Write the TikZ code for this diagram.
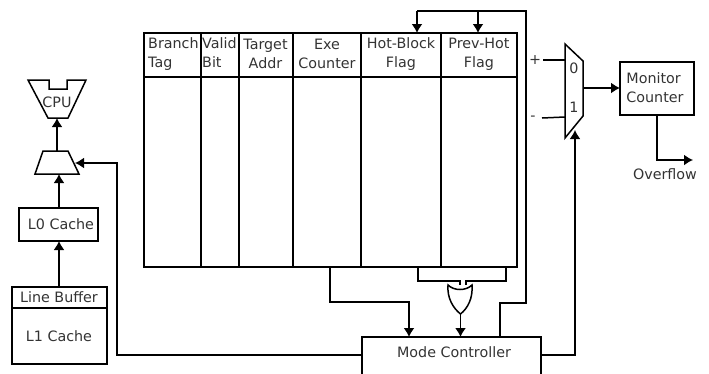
\documentclass[tikz,border=0pt]{standalone}
\usepackage{fontspec}
\setmainfont{DejaVu Sans}
\usetikzlibrary{arrows.meta,calc}
\definecolor{txt}{HTML}{333333}
\tikzset{
  wire/.style={line width=1.5pt,black},
  arrowwire/.style={wire,-{Latex[length=9pt,width=11pt]}},
  boxn/.style={draw=black,line width=1.5pt,rectangle,inner sep=0pt,outer sep=0pt,anchor=north west},
  lab/.style={text=txt,font=\fontsize{14.3}{19}\selectfont,inner sep=0pt,align=center},
  hdr/.style={lab,anchor=north west,align=left},
  shapeline/.style={draw=black,line width=1.5pt,line join=miter}
}
\newcommand{\cellbox}[4]{\node[boxn,minimum width=#3pt,minimum height=#4pt] (#1) at #2 {};}
\begin{document}
\begin{tikzpicture}[x=1pt,y=-1pt]
\useasboundingbox (0,0) rectangle (709,373);
\clip (0,0) rectangle (709,373);
% table
\cellbox{hA}{(144,33)}{57}{44}
\cellbox{hB}{(201,33)}{38}{44}
\cellbox{hC}{(239,33)}{54}{44}
\cellbox{hD}{(293,33)}{68}{44}
\cellbox{hE}{(361,33)}{80}{44}
\cellbox{hF}{(441,33)}{76}{44}
\cellbox{bA}{(144,77)}{57}{190}
\cellbox{bB}{(201,77)}{38}{190}
\cellbox{bC}{(239,77)}{54}{190}
\cellbox{bD}{(293,77)}{68}{190}
\cellbox{bE}{(361,77)}{80}{190}
\cellbox{bF}{(441,77)}{76}{190}
\node[hdr] (tA) at (148,37) {Branch\\Tag};
\node[hdr] (tB) at (202,37) {Valid\\Bit};
\node[lab] (tC) at (265.5,54) {Target\\Addr};
\node[lab] (tD) at (327,54) {Exe\\Counter};
\node[lab] (tE) at (401,54) {Hot-Block\\Flag};
\node[lab] (tF) at (479,54) {Prev-Hot\\Flag};
% mode controller
\node[boxn,minimum width=179pt,minimum height=50pt] (mode) at (362,337) {};
\node[lab] (modet) at (454,352.5) {Mode Controller};
% left stack
\node[boxn,minimum width=95pt,minimum height=21pt] (lb) at (12,287) {};
\node[lab] (lbt) at (59,297.5) {Line Buffer};
\node[boxn,minimum width=95pt,minimum height=56pt] (l1) at (12,308) {};
\node[lab] (l1t) at (59,336) {L1 Cache};
\node[boxn,minimum width=79pt,minimum height=33pt] (l0) at (19,208) {};
\node[lab] (l0t) at (61,224) {L0 Cache};
% small mux
\coordinate (smT) at (56,151);
\coordinate (smB) at (59,174);
\coordinate (smR) at (75,163);
\draw[shapeline] (43,151) -- (68,151) -- (79,174) -- (35,174) -- cycle;
% CPU
\coordinate (cpuB) at (57,118);
\draw[shapeline] (28,80) -- (49,80) -- (49,89) -- (67,89) -- (67,80) -- (86,80) -- (68,118) -- (48,118) -- cycle;
\node[lab] (cput) at (57,102) {CPU};
% left arrows
\draw[arrowwire] (lb.north -| smB) -- (l0.south -| smB);
\draw[arrowwire] (l0.north -| smB) -- (smB);
\draw[arrowwire] (smT -| cpuB) -- (cpuB);
\coordinate (mL) at (362,355);
\coordinate (mR) at (541,355);
\draw[arrowwire] (mL) -| (117,163) -- (smR);
% feedback
\coordinate (fbTop) at (526,11);
\coordinate (fbLow) at (526,303);
\coordinate (fbM) at (500,303);
\draw[wire] (mode.north -| fbM) -- (fbM) -- (fbLow) -- (fbTop) -- (417,11 |- fbTop) coordinate (fbL);
\draw[arrowwire] (417,11) -- (417,33);
\draw[arrowwire] (478,11) -- (478,33);
% exe counter to controller
\coordinate (exeS) at (330,267);
\draw[arrowwire] (exeS) -- (330,302) -- (409,302) -- (409,337);
% OR gate
\coordinate (orL) at (460,285);
\coordinate (orR) at (466,285);
\coordinate (orOut) at (460.5,314);
\draw[wire] (418,267) -- (418,281) -- (460,281) -- (orL);
\draw[wire] (506,267) -- (506,281) -- (466,281) -- (orR);
\draw[shapeline] (448,285) .. controls (454,291) and (466,291) .. (472,285)
  .. controls (473,298) and (468,308) .. (orOut)
  .. controls (453,308) and (447,298) .. (448,285) -- cycle;
\draw[arrowwire] (orOut) -- (460.5,337);
% mux
\draw[shapeline] (565,44) -- (583,61) -- (583,116) -- (565,138) -- cycle;
\node[lab] (m0) at (574,68) {0};
\node[lab] (m1) at (574,107) {1};
\node[lab,anchor=center] (plus) at (535,60) {+};
\node[lab,anchor=center] (minus) at (533,118) {-};
\coordinate (muxA) at (565,60);
\coordinate (muxB) at (565,117);
\draw[wire] (543,60) -- (muxA);
\draw[wire] (542,118) -- (muxB);
\coordinate (muxOut) at (583,88);
\coordinate (muxSel) at (575,130);
\draw[arrowwire] (mR) -| (muxSel);
% monitor
\node[boxn,minimum width=74pt,minimum height=53pt] (mon) at (620,62) {};
\node[lab,align=left] (mont) at (655,88) {Monitor\\Counter};
\draw[arrowwire] (muxOut) -- (muxOut -| mon.west);
\coordinate (ovf) at (693,160);
\draw[arrowwire] (mon.south -| 657,0) -- (657,160) -- (ovf);
\node[lab] (ovft) at (665,174) {Overflow};
\end{tikzpicture}
\end{document}
